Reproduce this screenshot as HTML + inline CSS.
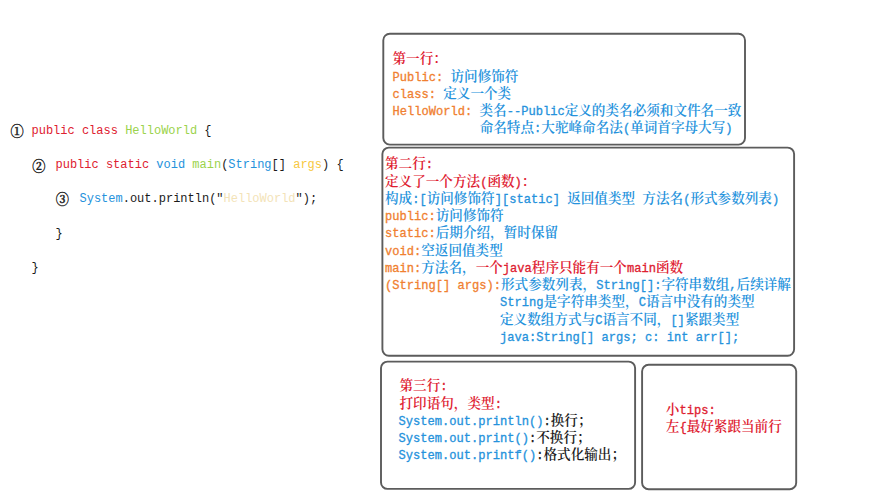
<!DOCTYPE html>
<html lang="zh-CN">
<head>
<meta charset="utf-8">
<title>HelloWorld</title>
<style>
html,body{margin:0;padding:0;background:#fff;}
body{width:879px;height:500px;position:relative;overflow:hidden;
 font-family:"Liberation Mono","Noto Serif CJK SC",serif;}
.boxes{position:absolute;left:0;top:0;}
.ln{position:absolute;white-space:pre;line-height:18px;height:18px;
 font-family:"Liberation Mono","Noto Serif CJK SC",serif;font-size:13.6px;font-weight:600;}
.ln .m{font-family:"Liberation Mono",monospace;font-size:12.08px;font-weight:normal;-webkit-text-stroke:0.3px currentColor;}
.cd{position:absolute;white-space:pre;line-height:20px;height:20px;color:#2a2a2a;
 font-family:"Liberation Mono","Noto Serif CJK SC",serif;font-size:12.0px;font-weight:normal;}
.cd .c{font-family:"Noto Serif CJK SC",serif;font-size:13.2px;font-weight:600;color:#222;-webkit-text-stroke:0.35px #222;position:absolute;}
.r{color:#de2030}.o{color:#f08030}.b{color:#2592dc}.g{color:#9bd34c}.y{color:#f7c840}.p{color:#f3e3b8}.k{color:#1a1a1a}
</style>
</head>
<body>
<svg class="boxes" width="879" height="500" viewBox="0 0 879 500"><g fill="#fff" stroke="#5c5c5c" stroke-width="1.9">
<rect x="383.3" y="33.7" width="361.7" height="110.9" rx="6.5" ry="6.5"/>
<rect x="382.4" y="147.6" width="411.7" height="208.2" rx="6.5" ry="6.5"/>
<rect x="381.0" y="361.6" width="254.1" height="127.3" rx="6.5" ry="6.5"/>
<rect x="642.1" y="364.8" width="154.1" height="124.4" rx="6.5" ry="6.5"/>
</g></svg>
<!-- code -->
<div class="cd" style="left:31.5px;top:120.6px"><span class="c" style="left:-20.9px;top:0.2px">①</span><span class="r">public class</span> <span class="g">HelloWorld</span> <span class="k">{</span></div>
<div class="cd" style="left:55.5px;top:154.9px"><span class="c" style="left:-23.3px;top:1.2px">②</span><span class="r">public static</span> <span class="b">void</span> <span class="g">main</span><span class="k">(</span><span class="b">String</span><span class="k">[]</span> <span class="y">args</span><span class="k">)</span> <span class="k">{</span></div>
<div class="cd" style="left:79.5px;top:189.2px"><span class="c" style="left:-23.7px;top:0.0px">③</span><span class="b">System</span><span class="k">.out.println("</span><span class="p">HelloWorld</span><span class="k">");</span></div>
<div class="cd" style="left:55.5px;top:223.5px"><span class="k">}</span></div>
<div class="cd" style="left:31.5px;top:257.8px"><span class="k">}</span></div>
<div class="ln r" style="left:392.50px;top:51.30px">第一行：</div>
<div class="ln b" style="left:392.50px;top:68.55px"><span class="m o">Public:</span><span class="m"> </span>访问修饰符</div>
<div class="ln b" style="left:392.50px;top:85.80px"><span class="m o">class:</span><span class="m"> </span>定义一个类</div>
<div class="ln b" style="left:392.50px;top:103.05px"><span class="m o">HelloWorld:</span><span class="m"> </span>类名<span class="m">--Public</span>定义的类名必须和文件名一致</div>
<div class="ln b" style="left:479.70px;top:120.30px">命名特点<span class="m">:</span>大驼峰命名法<span class="m">(</span>单词首字母大写<span class="m">)</span></div>
<div class="ln r" style="left:385.00px;top:156.30px">第二行<span class="m">:</span></div>
<div class="ln r" style="left:385.00px;top:173.55px">定义了一个方法<span class="m">(</span>函数<span class="m">)</span>：</div>
<div class="ln b" style="left:385.00px;top:190.80px">构成<span class="m">:[</span>访问修饰符<span class="m">][static] </span>返回值类型<span class="m"> </span>方法名<span class="m">(</span>形式参数列表<span class="m">)</span></div>
<div class="ln b" style="left:385.00px;top:208.05px"><span class="m o">public:</span>访问修饰符</div>
<div class="ln b" style="left:385.00px;top:225.30px"><span class="m o">static:</span>后期介绍，暂时保留</div>
<div class="ln b" style="left:385.00px;top:242.55px"><span class="m o">void:</span>空返回值类型</div>
<div class="ln r" style="left:385.00px;top:259.80px"><span class="m o">main:</span><span class="b">方法名，</span>一个<span class="m">java</span>程序只能有一个<span class="m">main</span>函数</div>
<div class="ln b" style="left:385.00px;top:277.05px"><span class="m o">(String[] args):</span>形式参数列表，<span class="m">String[]:</span>字符串数组<span class="m">,</span>后续详解</div>
<div class="ln b" style="left:500.00px;top:294.30px"><span class="m">String</span>是字符串类型，<span class="m">C</span>语言中没有的类型</div>
<div class="ln b" style="left:500.00px;top:311.55px">定义数组方式与<span class="m">C</span>语言不同，<span class="m">[]</span>紧跟类型</div>
<div class="ln b" style="left:500.00px;top:328.80px"><span class="m">java:String[] args; c: int arr[];</span></div>
<div class="ln r" style="left:399.50px;top:378.30px">第三行<span class="m">:</span></div>
<div class="ln r" style="left:399.50px;top:395.55px">打印语句，类型<span class="m">:</span></div>
<div class="ln k" style="left:398.50px;top:412.80px"><span class="m b">System.out.println()</span><span class="m">:</span>换行；</div>
<div class="ln k" style="left:398.50px;top:430.05px"><span class="m b">System.out.print()</span><span class="m">:</span>不换行；</div>
<div class="ln k" style="left:398.50px;top:447.30px"><span class="m b">System.out.printf()</span><span class="m">:</span>格式化输出；</div>
<div class="ln r" style="left:665.80px;top:401.80px">小<span class="m">tips:</span></div>
<div class="ln r" style="left:665.80px;top:419.30px">左<span class="m">{</span>最好紧跟当前行</div>
</body>
</html>
